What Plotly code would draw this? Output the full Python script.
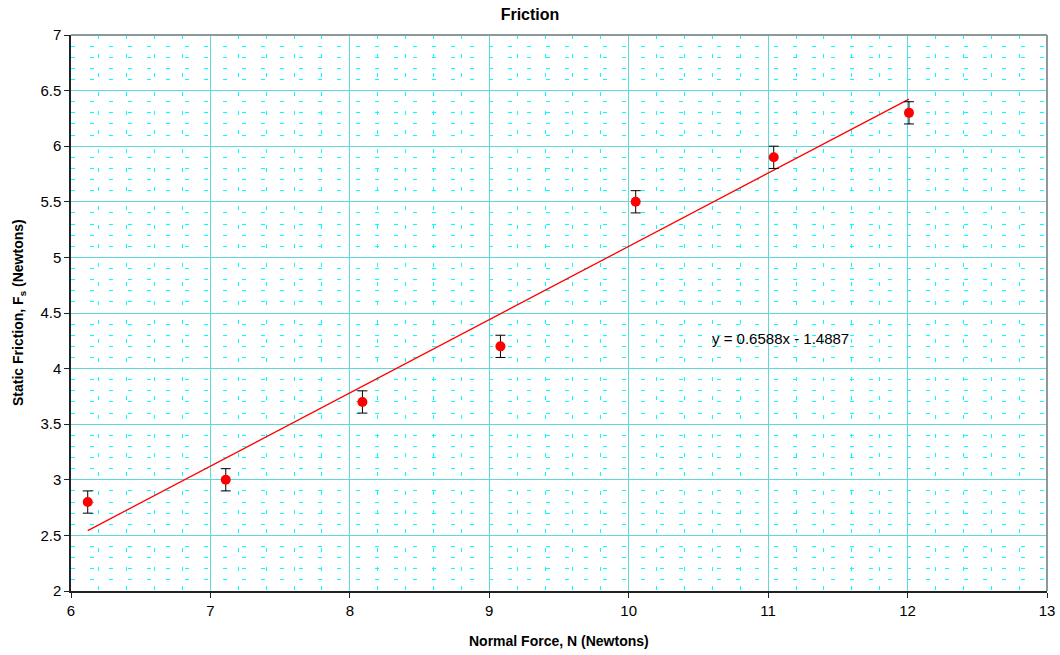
import plotly.graph_objects as go

normal_force = [6.12, 7.11, 8.09, 9.08, 10.05, 11.04, 12.01]
static_friction = [2.8, 3.0, 3.7, 4.2, 5.5, 5.9, 6.3]
error = [0.1] * 7
slope = 0.6588
intercept = -1.4887

x_ticks = [6, 7, 8, 9, 10, 11, 12, 13]
y_ticks = [2, 2.5, 3, 3.5, 4, 4.5, 5, 5.5, 6, 6.5, 7]

# minor grid positions (between major ticks only)
x_minor = [round(6 + 0.2 * i, 2) for i in range(36) if i % 5]
y_minor = [round(2 + 0.1 * i, 2) for i in range(51) if i % 5]

fit_x = [min(normal_force), max(normal_force)]
fit_y = [slope * v + intercept for v in fit_x]

fig = go.Figure()
fig.add_trace(go.Scatter(
    x=fit_x, y=fit_y, mode="lines",
    line=dict(color="#FF0000", width=1.3), showlegend=False, hoverinfo="skip"))
fig.add_trace(go.Scatter(
    x=normal_force, y=static_friction, mode="markers",
    marker=dict(color="#FF0000", size=10),
    error_y=dict(type="data", array=error, visible=True, color="black",
                 thickness=1, width=5),
    showlegend=False))

grid_major = "#5ED8D8"
minor_col = "#00FFFF"

W, H = 1060, 655

fig.update_layout(
    width=W, height=H,
    margin=dict(l=71, r=13, t=35, b=64, autoexpand=False),
    paper_bgcolor="white", plot_bgcolor="white",
    font=dict(family="Liberation Sans, Arial, sans-serif", color="black"),
    title=dict(text="<b>Friction</b>", xref="container", x=530 / W,
               xanchor="center", yref="container", y=1 - 14 / H,
               yanchor="middle", font=dict(size=16)),
    xaxis=dict(range=[6, 13], tickvals=x_ticks, ticktext=[str(v) for v in x_ticks],
               showgrid=True, gridcolor=grid_major, gridwidth=1,
               showline=True, linecolor="#222", linewidth=1.5,
               ticks="outside", ticklen=5, tickcolor="#222",
               tickfont=dict(size=15), zeroline=False, automargin=False,
               minor=dict(tickmode="array", tickvals=x_minor, showgrid=True,
                          gridcolor=minor_col, griddash="4px,15px", gridwidth=1)),
    yaxis=dict(range=[2, 7], tickvals=y_ticks, ticktext=[str(v) for v in y_ticks],
               showgrid=True, gridcolor=grid_major, gridwidth=1,
               showline=True, linecolor="#222", linewidth=1.5,
               ticks="outside", ticklen=5, tickcolor="#222",
               tickfont=dict(size=15), zeroline=False, automargin=False,
               minor=dict(tickmode="array", tickvals=y_minor, showgrid=True,
                          gridcolor=minor_col, griddash="4px,15px", gridwidth=1)),
    shapes=[
        dict(type="line", xref="paper", yref="paper", x0=0, x1=1, y0=1, y1=1,
             line=dict(color="#8A9A9A", width=2)),
        dict(type="line", xref="paper", yref="paper", x0=1, x1=1, y0=0, y1=1,
             line=dict(color="#8A9A9A", width=2)),
    ],
    annotations=[
        dict(x=10.58, y=4.27, xref="x", yref="y", xanchor="left",
             yanchor="middle", showarrow=False,
             text=f"y = {slope}x - {abs(intercept)}",
             font=dict(size=15, color="black")),
        dict(x=0.5, y=0, xref="paper", yref="paper", xanchor="center",
             yanchor="middle", yshift=-50, showarrow=False,
             text="<b>Normal Force, N (Newtons)</b>", font=dict(size=14)),
        dict(x=0, y=0.5, xref="paper", yref="paper", xanchor="center",
             yanchor="middle", xshift=-52, showarrow=False, textangle=-90,
             text="<b>Static Friction, F<sub>s</sub> (Newtons)</b>",
             font=dict(size=14)),
    ],
)

fig.write_html(
    "out.html",
    config={"displayModeBar": False},
    post_script="document.body.style.margin='0';document.body.style.overflow='hidden';",
)
